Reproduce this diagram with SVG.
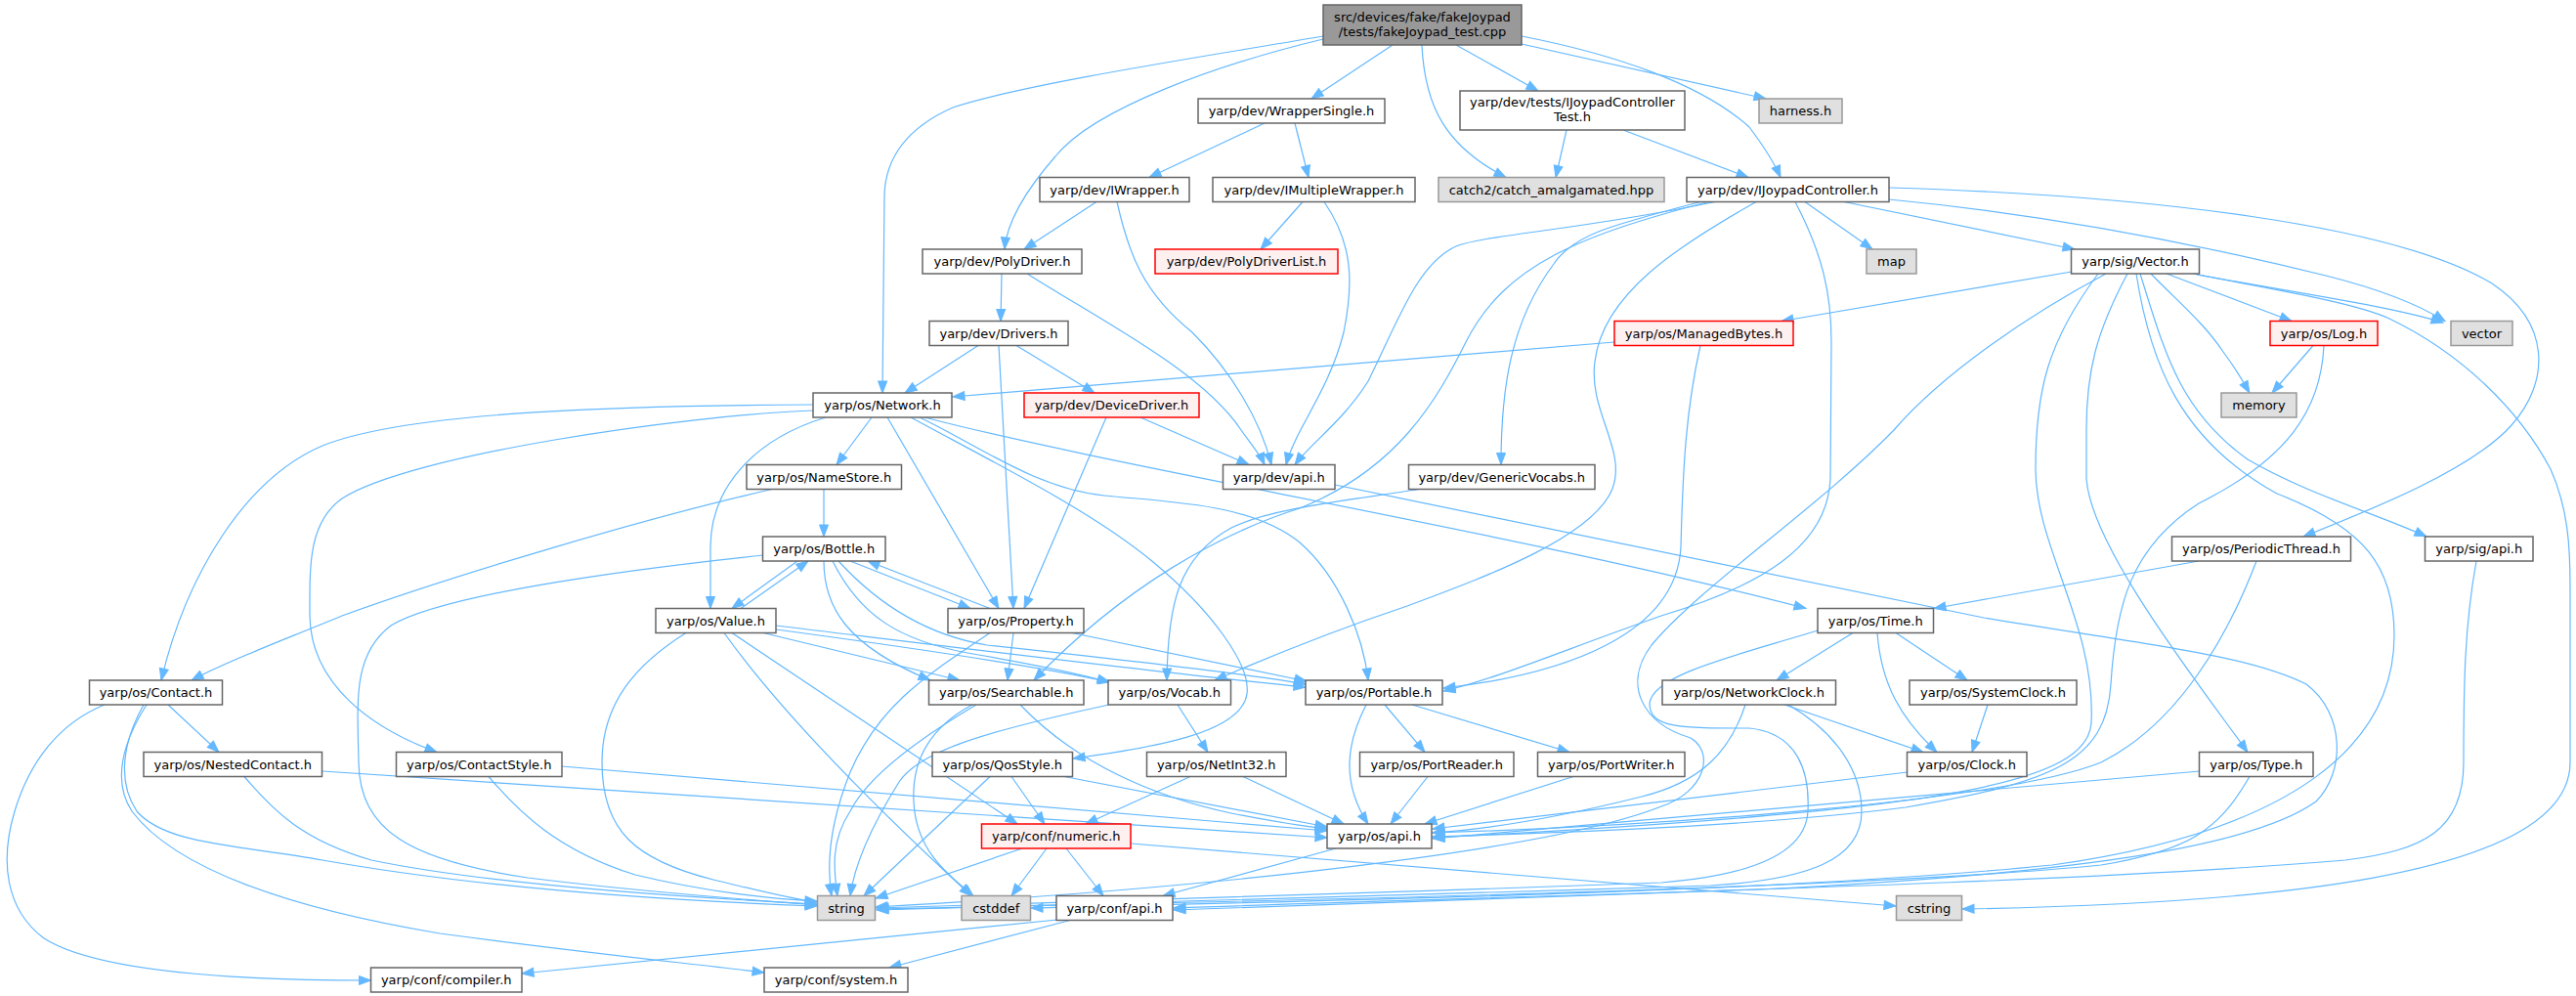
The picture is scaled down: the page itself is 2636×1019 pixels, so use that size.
<svg xmlns="http://www.w3.org/2000/svg" width="2636" height="1019" viewBox="0 0 2636 1019">
<style>
.e{fill:none;stroke:#63b8ff;stroke-width:1.2;marker-end:url(#ah)}
.n rect{fill:#ffffff;stroke:#666666;stroke-width:1.5}
.n.g rect{fill:#e0e0e0;stroke:#999999}
.n.r rect{fill:#fff0f0;stroke:#ff0000}
.n.t rect{fill:#999999;stroke:#666666}
text{font-family:"DejaVu Sans","Liberation Sans",sans-serif;font-size:13px;text-anchor:middle;fill:#000000}
</style>
<defs>
<marker id="ah" markerWidth="12" markerHeight="9" refX="12" refY="4.5" orient="auto" markerUnits="userSpaceOnUse" overflow="visible">
<path d="M0,0 L12,4.5 L0,9 z" fill="#63b8ff" stroke="#63b8ff" stroke-width="1"/>
</marker>
</defs>
<rect x="0" y="0" width="2636" height="1019" fill="#ffffff"/>
<g id="edges">
<path class="e" d="M1354,37 C1250,55 1050,85 975,110 C930,130 906,160 905,200 L903,402"/>
<path class="e" d="M1354,40 C1250,65 1120,110 1080,160 C1045,200 1030,230 1028,255"/>
<path class="e" d="M1425,46 L1342,101"/>
<path class="e" d="M1455,46 C1458,110 1480,150 1541,181.5"/>
<path class="e" d="M1490,46 L1574,93"/>
<path class="e" d="M1557,45 L1807,101"/>
<path class="e" d="M1557,37 C1650,55 1740,85 1790,130 C1805,150 1815,165 1822,181.5"/>
<path class="e" d="M1294,126 L1176,181.5"/>
<path class="e" d="M1325,126 L1339,181.5"/>
<path class="e" d="M1603,133 L1592,181.5"/>
<path class="e" d="M1661,133 L1789,181.5"/>
<path class="e" d="M1122,206.5 L1048,255"/>
<path class="e" d="M1143,206.5 C1155,260 1170,300 1220,340 C1260,380 1290,430 1301,475.5"/>
<path class="e" d="M1333,206.5 L1290,255"/>
<path class="e" d="M1355,206.5 C1385,250 1385,290 1375,340 C1360,400 1325,440 1316,475.5"/>
<path class="e" d="M1847,206.5 L1916,255"/>
<path class="e" d="M1887,206.5 L2123,255"/>
<path class="e" d="M1933,204 C2100,220 2250,250 2380,282 C2440,297 2480,315 2502,328.5"/>
<path class="e" d="M1933,192 C2200,200 2450,230 2550,290 C2610,330 2610,390 2570,435 C2530,480 2430,520 2357,549"/>
<path class="e" d="M1755,206.5 C1620,235 1520,240 1490,252 C1450,270 1430,330 1400,390 C1375,430 1340,455 1325,475.5"/>
<path class="e" d="M1748,206.5 C1620,240 1540,270 1500,350 C1470,410 1430,480 1330,520 C1250,545 1150,600 1058,696"/>
<path class="e" d="M1740,206.5 C1650,230 1610,240 1590,270 C1545,330 1536,400 1536,475.5"/>
<path class="e" d="M1797,206.5 C1720,250 1640,300 1632,370 C1625,420 1665,460 1650,500 C1630,550 1520,590 1440,620 C1350,650 1280,680 1243,696"/>
<path class="e" d="M1837,206.5 C1865,260 1874,300 1874,350 L1873,490 C1870,560 1800,600 1700,630 C1600,665 1530,695 1477,707"/>
<path class="e" d="M2155,280 C2080,320 1990,380 1938,440 C1860,520 1740,600 1690,660 C1660,700 1680,740 1730,755 C1755,770 1745,810 1700,825 C1600,865 1300,905 896,928"/>
<path class="e" d="M2147,280 C2095,350 2083,400 2083,480 C2083,560 2145,640 2140,740 C2135,800 2000,830 1466,857"/>
<path class="e" d="M2177,280 C2145,340 2135,380 2135,440 L2135,490 C2140,560 2250,700 2300,769.5"/>
<path class="e" d="M2120,278 L1823,328.5"/>
<path class="e" d="M2217,280 L2345,328.5"/>
<path class="e" d="M2201,280 C2230,310 2255,330 2275,360 C2290,380 2298,395 2302,402"/>
<path class="e" d="M2244,280 C2350,300 2440,312 2500,330"/>
<path class="e" d="M2248,281 C2350,300 2415,312 2445,326 C2520,362 2578,420 2610,480 C2628,520 2630,560 2630,600 L2630,780 C2630,900 2300,925 2008,930"/>
<path class="e" d="M2190,280 C2215,360 2230,420 2300,470 C2360,505 2430,525 2483,549"/>
<path class="e" d="M2186,280 C2200,370 2230,450 2330,505 C2420,540 2450,580 2450,650 C2450,760 2350,850 2100,885 C1800,915 1300,922 1055,929"/>
<path class="e" d="M2367,353.5 L2325,402"/>
<path class="e" d="M2378,353.5 C2375,420 2340,470 2250,515 C2180,560 2165,620 2160,700 C2155,780 2100,800 1950,826 C1800,845 1600,852 1466,856"/>
<path class="e" d="M2250,574 L1979,622.5"/>
<path class="e" d="M2309,574 C2280,650 2230,740 2150,780 C2050,820 1700,845 1466,852"/>
<path class="e" d="M2534,574 C2522,640 2521,700 2521,780 C2521,850 2480,870 2400,880 C2100,905 1600,915 1201,929"/>
<path class="e" d="M1366,496 L2030,632 C2200,660 2300,670 2360,700 C2400,730 2400,790 2370,820 C2300,870 2100,895 1800,910 C1500,922 1300,926 1201,931"/>
<path class="e" d="M2251,789 L1466,858"/>
<path class="e" d="M2302,794.5 C2270,850 2240,870 2150,885 C1900,910 1300,922 897,930"/>
<path class="e" d="M1860,645 C1780,670 1690,690 1688,720 C1688,745 1720,745 1790,745 C1840,750 1852,790 1850,830 C1848,870 1800,895 1700,903 C1400,915 1000,924 897,929"/>
<path class="e" d="M1826,721 L1968,769.5"/>
<path class="e" d="M1786,721 C1770,770 1740,800 1680,815 C1600,835 1530,848 1466,852"/>
<path class="e" d="M1830,721 C1880,750 1905,790 1905,830 C1905,880 1850,900 1750,906 C1400,918 1000,926 897,931"/>
<path class="e" d="M1896,647.5 L1818,696"/>
<path class="e" d="M1940,647.5 L2013,696"/>
<path class="e" d="M1921,647.5 C1925,700 1945,735 1982,769.5"/>
<path class="e" d="M2034,721 L2018,769.5"/>
<path class="e" d="M1952,790 L1466,848"/>
<path class="e" d="M1417,721 L1458,769.5"/>
<path class="e" d="M1445,721 L1606,769.5"/>
<path class="e" d="M1398,721 C1378,760 1372,800 1400,843"/>
<path class="e" d="M1461,794.5 L1423,843"/>
<path class="e" d="M1610,794.5 L1458,843"/>
<path class="e" d="M1652,350 L975,406"/>
<path class="e" d="M1740,353.5 C1725,420 1722,480 1720,560 C1715,650 1600,690 1477,704"/>
<path class="e" d="M1001,353.5 L926,402"/>
<path class="e" d="M1040,353.5 L1120,402"/>
<path class="e" d="M1022,353.5 L1037,622.5"/>
<path class="e" d="M1025,280 L1024,328.5"/>
<path class="e" d="M1051,280 C1130,330 1230,380 1270,440 C1283,458 1290,466 1294,475.5"/>
<path class="e" d="M1167,427 L1278,475.5"/>
<path class="e" d="M1132,427 L1048,622.5"/>
<path class="e" d="M832,414 C650,415 420,420 330,456 C250,490 190,590 165,696"/>
<path class="e" d="M832,420 C700,425 420,465 350,510 C315,535 317,580 317,630 C318,700 380,745 447,769.5"/>
<path class="e" d="M892,427 L856,475.5"/>
<path class="e" d="M845,427 C770,450 727,500 727,560 L727,622.5"/>
<path class="e" d="M908,427 L1022,622.5"/>
<path class="e" d="M932,427 C1030,480 1120,525 1180,575 C1240,625 1280,680 1276,710 C1270,750 1180,765 1098,776"/>
<path class="e" d="M946,427 C1150,480 1550,545 1848,622.5"/>
<path class="e" d="M941,427 C1000,455 1060,500 1130,507 C1200,514 1280,515 1330,555 C1370,590 1395,650 1400,696"/>
<path class="e" d="M843,500.5 L843,549"/>
<path class="e" d="M790,500.5 C660,530 460,590 350,630 C290,655 235,675 196,696"/>
<path class="e" d="M1452,500.5 C1380,512 1300,520 1260,540 C1205,570 1195,620 1194,696"/>
<path class="e" d="M816,574 L749,622.5"/>
<path class="e" d="M758,622.5 L827,574"/>
<path class="e" d="M870,574 L993,622.5"/>
<path class="e" d="M1013,622.5 L888,574"/>
<path class="e" d="M781,568 C620,585 450,610 400,640 C360,670 366,720 367,780 C368,850 420,880 540,898 C650,912 760,920 836,926"/>
<path class="e" d="M843,574 C843,620 865,660 952,696"/>
<path class="e" d="M852,574 C880,630 920,655 990,668 C1060,680 1100,688 1135,698"/>
<path class="e" d="M858,574 C900,620 950,650 1010,660 C1150,675 1280,690 1336,700"/>
<path class="e" d="M702,647.5 C650,680 616,720 616,780 C616,850 650,880 730,900 C780,912 810,920 836,923"/>
<path class="e" d="M741,647.5 C800,730 900,830 994,916.5"/>
<path class="e" d="M749,647.5 L1041,843"/>
<path class="e" d="M781,647.5 L982,696"/>
<path class="e" d="M794,644 C950,665 1080,685 1136,698"/>
<path class="e" d="M794,640 C1000,665 1200,690 1336,703"/>
<path class="e" d="M1037,647.5 L1031,696"/>
<path class="e" d="M1013,647.5 C950,690 900,720 870,790 C850,840 845,880 851,916.5"/>
<path class="e" d="M1097,647.5 L1337,697"/>
<path class="e" d="M999,721 C950,750 890,790 870,830 C850,860 853,890 857,916.5"/>
<path class="e" d="M995,721 C950,745 933,780 935,820 C937,870 970,895 996,916.5"/>
<path class="e" d="M1044,721 C1100,780 1180,815 1260,832 C1300,840 1330,845 1358,848"/>
<path class="e" d="M1135,721 C1000,750 940,770 920,800 C895,840 875,880 870,916.5"/>
<path class="e" d="M1205,721 L1236,769.5"/>
<path class="e" d="M1013,794.5 L884,916.5"/>
<path class="e" d="M1035,794.5 L1069,843"/>
<path class="e" d="M1089,794.5 L1358,846"/>
<path class="e" d="M1218,794.5 L1111,843"/>
<path class="e" d="M1272,794.5 L1375,843"/>
<path class="e" d="M1046,868 L896,919"/>
<path class="e" d="M1071,868 L1035,916.5"/>
<path class="e" d="M1091,868 L1129,916.5"/>
<path class="e" d="M1157,863 L1940,927"/>
<path class="e" d="M1367,868 L1190,916.5"/>
<path class="e" d="M1082,941 L534,996"/>
<path class="e" d="M1095,941.5 L910,990"/>
<path class="e" d="M172,721 L224,769.5"/>
<path class="e" d="M107,721 C60,740 30,780 15,830 C0,880 5,930 45,960 C100,995 250,1003 379.5,1003"/>
<path class="e" d="M147,721 C125,760 120,800 140,830 C170,865 250,865 330,880 C500,910 700,922 836,927"/>
<path class="e" d="M150,721 C125,760 115,800 135,830 C180,890 300,930 450,955 C600,975 700,985 782,995"/>
<path class="e" d="M250,794.5 C280,830 310,860 380,880 C500,905 700,918 836,925"/>
<path class="e" d="M330,789 L1358,857"/>
<path class="e" d="M500,794.5 C530,830 570,870 650,895 C720,912 790,920 836,922"/>
<path class="e" d="M575,784 L1358,850"/>
</g>
<g id="n_top" class="n t"><rect x="1354" y="5" width="203" height="41"/><text x="1455.5" y="21.5">src/devices/fake/fakeJoypad</text><text x="1455.5" y="36.5">/tests/fakeJoypad_test.cpp</text></g>
<g id="n_wrappersingle" class="n"><rect x="1226" y="101" width="191" height="25"/><text x="1321.5" y="118">yarp/dev/WrapperSingle.h</text></g>
<g id="n_harness" class="n g"><rect x="1800" y="101" width="85" height="25"/><text x="1842.5" y="118">harness.h</text></g>
<g id="n_ijctest" class="n"><rect x="1494" y="93" width="230" height="40"/><text x="1609" y="109">yarp/dev/tests/IJoypadController</text><text x="1609" y="124">Test.h</text></g>
<g id="n_iwrapper" class="n"><rect x="1064" y="181.5" width="153" height="25"/><text x="1140.5" y="198.5">yarp/dev/IWrapper.h</text></g>
<g id="n_imultiplewrapper" class="n"><rect x="1241" y="181.5" width="207" height="25"/><text x="1344.5" y="198.5">yarp/dev/IMultipleWrapper.h</text></g>
<g id="n_catch2" class="n g"><rect x="1472" y="181.5" width="231" height="25"/><text x="1587.5" y="198.5">catch2/catch_amalgamated.hpp</text></g>
<g id="n_ijoypadcontroller" class="n"><rect x="1726" y="181.5" width="207" height="25"/><text x="1829.5" y="198.5">yarp/dev/IJoypadController.h</text></g>
<g id="n_polydriver" class="n"><rect x="944" y="255" width="163" height="25"/><text x="1025.5" y="272">yarp/dev/PolyDriver.h</text></g>
<g id="n_polydriverlist" class="n r"><rect x="1182" y="255" width="187" height="25"/><text x="1275.5" y="272">yarp/dev/PolyDriverList.h</text></g>
<g id="n_map" class="n g"><rect x="1910" y="255" width="51" height="25"/><text x="1935.5" y="272">map</text></g>
<g id="n_sigvector" class="n"><rect x="2119.5" y="255" width="131" height="25"/><text x="2185" y="272">yarp/sig/Vector.h</text></g>
<g id="n_drivers" class="n"><rect x="951" y="328.5" width="142" height="25"/><text x="1022" y="345.5">yarp/dev/Drivers.h</text></g>
<g id="n_managedbytes" class="n r"><rect x="1652" y="328.5" width="183" height="25"/><text x="1743.5" y="345.5">yarp/os/ManagedBytes.h</text></g>
<g id="n_log" class="n r"><rect x="2323" y="328.5" width="110" height="25"/><text x="2378" y="345.5">yarp/os/Log.h</text></g>
<g id="n_vector" class="n g"><rect x="2508" y="328.5" width="63" height="25"/><text x="2539.5" y="345.5">vector</text></g>
<g id="n_network" class="n"><rect x="832" y="402" width="142" height="25"/><text x="903" y="419">yarp/os/Network.h</text></g>
<g id="n_devicedriver" class="n r"><rect x="1048" y="402" width="179" height="25"/><text x="1137.5" y="419">yarp/dev/DeviceDriver.h</text></g>
<g id="n_memory" class="n g"><rect x="2273" y="402" width="77" height="25"/><text x="2311.5" y="419">memory</text></g>
<g id="n_namestore" class="n"><rect x="764" y="475.5" width="158.5" height="25"/><text x="843.25" y="492.5">yarp/os/NameStore.h</text></g>
<g id="n_devapi" class="n"><rect x="1251.5" y="475.5" width="114.5" height="25"/><text x="1308.75" y="492.5">yarp/dev/api.h</text></g>
<g id="n_genericvocabs" class="n"><rect x="1441.5" y="475.5" width="190.5" height="25"/><text x="1536.75" y="492.5">yarp/dev/GenericVocabs.h</text></g>
<g id="n_bottle" class="n"><rect x="780.5" y="549" width="125.5" height="25"/><text x="843.25" y="566">yarp/os/Bottle.h</text></g>
<g id="n_periodicthread" class="n"><rect x="2222.5" y="549" width="183" height="25"/><text x="2314" y="566">yarp/os/PeriodicThread.h</text></g>
<g id="n_sigapi" class="n"><rect x="2481.5" y="549" width="110.5" height="25"/><text x="2536.75" y="566">yarp/sig/api.h</text></g>
<g id="n_value" class="n"><rect x="671" y="622.5" width="123" height="25"/><text x="732.5" y="639.5">yarp/os/Value.h</text></g>
<g id="n_property" class="n"><rect x="970" y="622.5" width="139" height="25"/><text x="1039.5" y="639.5">yarp/os/Property.h</text></g>
<g id="n_time" class="n"><rect x="1860" y="622.5" width="118.5" height="25"/><text x="1919.25" y="639.5">yarp/os/Time.h</text></g>
<g id="n_contact" class="n"><rect x="91.5" y="696" width="136" height="25"/><text x="159.5" y="713">yarp/os/Contact.h</text></g>
<g id="n_searchable" class="n"><rect x="950.5" y="696" width="158.5" height="25"/><text x="1029.75" y="713">yarp/os/Searchable.h</text></g>
<g id="n_vocab" class="n"><rect x="1134" y="696" width="125.5" height="25"/><text x="1196.75" y="713">yarp/os/Vocab.h</text></g>
<g id="n_portable" class="n"><rect x="1336" y="696" width="140" height="25"/><text x="1406" y="713">yarp/os/Portable.h</text></g>
<g id="n_networkclock" class="n"><rect x="1701" y="696" width="177.5" height="25"/><text x="1789.75" y="713">yarp/os/NetworkClock.h</text></g>
<g id="n_systemclock" class="n"><rect x="1954" y="696" width="171" height="25"/><text x="2039.5" y="713">yarp/os/SystemClock.h</text></g>
<g id="n_nestedcontact" class="n"><rect x="147" y="769.5" width="182.5" height="25"/><text x="238.25" y="786.5">yarp/os/NestedContact.h</text></g>
<g id="n_contactstyle" class="n"><rect x="405.5" y="769.5" width="169.5" height="25"/><text x="490.25" y="786.5">yarp/os/ContactStyle.h</text></g>
<g id="n_qosstyle" class="n"><rect x="954" y="769.5" width="143.5" height="25"/><text x="1025.75" y="786.5">yarp/os/QosStyle.h</text></g>
<g id="n_netint32" class="n"><rect x="1173.5" y="769.5" width="142.5" height="25"/><text x="1244.75" y="786.5">yarp/os/NetInt32.h</text></g>
<g id="n_portreader" class="n"><rect x="1391.5" y="769.5" width="157.5" height="25"/><text x="1470.25" y="786.5">yarp/os/PortReader.h</text></g>
<g id="n_portwriter" class="n"><rect x="1573.5" y="769.5" width="150.5" height="25"/><text x="1648.75" y="786.5">yarp/os/PortWriter.h</text></g>
<g id="n_clock" class="n"><rect x="1951.5" y="769.5" width="122.5" height="25"/><text x="2012.75" y="786.5">yarp/os/Clock.h</text></g>
<g id="n_type" class="n"><rect x="2250.5" y="769.5" width="116.5" height="25"/><text x="2308.75" y="786.5">yarp/os/Type.h</text></g>
<g id="n_numeric" class="n r"><rect x="1004.5" y="843" width="152.5" height="25"/><text x="1080.75" y="860">yarp/conf/numeric.h</text></g>
<g id="n_osapi" class="n"><rect x="1358" y="843" width="107" height="25"/><text x="1411.5" y="860">yarp/os/api.h</text></g>
<g id="n_string" class="n g"><rect x="836.5" y="916.5" width="59" height="25"/><text x="866" y="933.5">string</text></g>
<g id="n_cstddef" class="n g"><rect x="984" y="916.5" width="70.5" height="25"/><text x="1019.25" y="933.5">cstddef</text></g>
<g id="n_confapi" class="n"><rect x="1081" y="916.5" width="119" height="25"/><text x="1140.5" y="933.5">yarp/conf/api.h</text></g>
<g id="n_cstring" class="n g"><rect x="1940.5" y="916.5" width="67" height="25"/><text x="1974" y="933.5">cstring</text></g>
<g id="n_compiler" class="n"><rect x="379.5" y="990" width="154.5" height="25"/><text x="456.75" y="1007">yarp/conf/compiler.h</text></g>
<g id="n_system" class="n"><rect x="782" y="990" width="147" height="25"/><text x="855.5" y="1007">yarp/conf/system.h</text></g>
</svg>
